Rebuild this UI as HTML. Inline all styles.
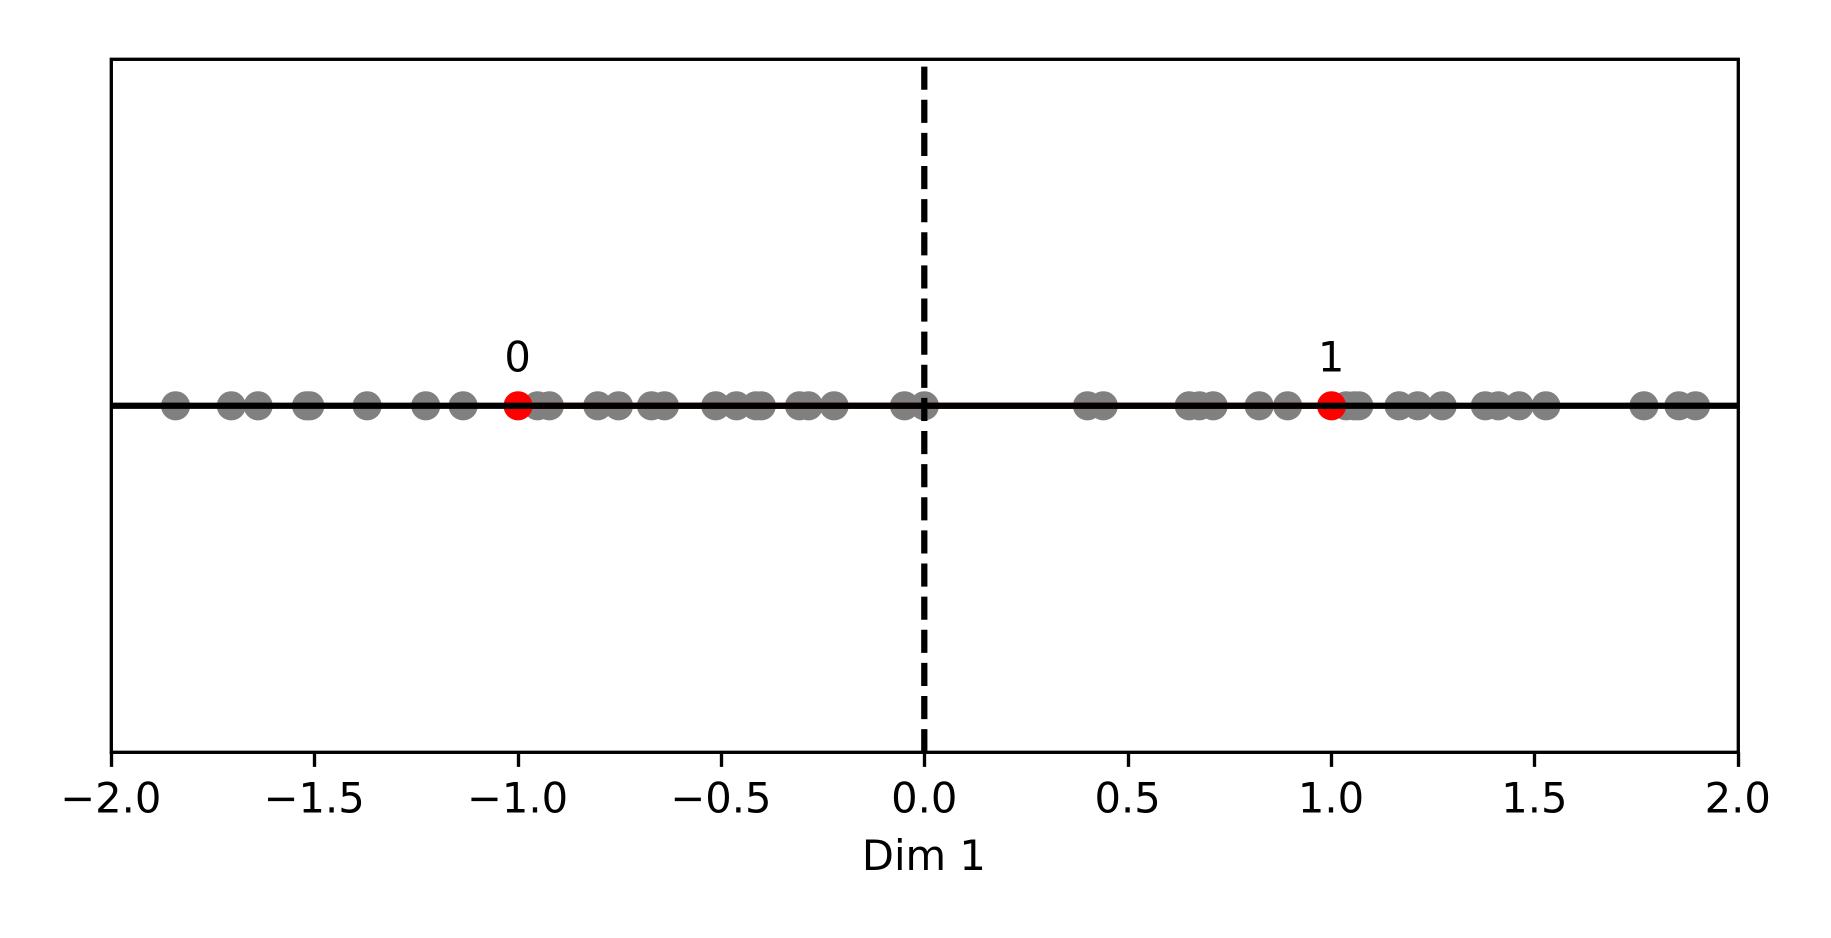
<!DOCTYPE html>
<html lang="en">
<head>
<meta charset="utf-8">
<title>Dim 1 strip plot</title>
<style>
html,body{margin:0;padding:0;background:#fff;}
svg{display:block;}
text{font-family:"DejaVu Sans","Liberation Sans",sans-serif;fill:#000;}
</style>
</head>
<body>
<svg id="chart" width="1831" height="938" viewBox="0 0 1831 938" xmlns="http://www.w3.org/2000/svg">
  <rect x="0" y="0" width="1831" height="938" fill="#fff"></rect>
  <g id="marks"></g>
  <g id="axes"></g>
</svg>
<script>
const grayValues = [-1.842,-1.705,-1.639,-1.520,-1.512,-1.371,-1.227,-1.135,-0.952,-0.923,-0.804,-0.753,-0.672,-0.640,-0.514,-0.463,-0.415,-0.402,-0.308,-0.286,-0.223,-0.050,-0.001,0.400,0.439,0.650,0.675,0.709,0.822,0.892,1.036,1.056,1.067,1.166,1.212,1.272,1.378,1.410,1.461,1.527,1.768,1.854,1.895];
const labeledValues = [-1, 1];
const labeledNames = ['0', '1'];
const xTicks = [-2,-1.5,-1,-0.5,0,0.5,1,1.5,2];
const xTickLabels = ['\u22122.0','\u22121.5','\u22121.0','\u22120.5','0.0','0.5','1.0','1.5','2.0'];
const xDomain = [-2, 2];
const yDomain = [-1, 1];

const NS = 'http://www.w3.org/2000/svg';
const plot = { left: 111.3, right: 1738.3, top: 59.3, bottom: 752.3 };
const xScale = v => plot.left + (v - xDomain[0]) / (xDomain[1] - xDomain[0]) * (plot.right - plot.left);
const yScale = v => plot.bottom - (v - yDomain[0]) / (yDomain[1] - yDomain[0]) * (plot.bottom - plot.top);
const snap = p => Math.floor(p) + 0.5;
const marks = document.getElementById('marks');
const axes = document.getElementById('axes');

function make(parent, tag, attrs, content) {
  const el = document.createElementNS(NS, tag);
  for (const k in attrs) el.setAttribute(k, attrs[k]);
  if (content !== undefined) el.textContent = content;
  parent.appendChild(el);
  return el;
}

grayValues.forEach(v => {
  const dot = make(marks, 'circle', { cx: xScale(v), cy: yScale(0), r: 14.6, fill: '#808080' });
  
  
});

labeledValues.forEach((v, i) => {
  const dot = make(marks, 'circle', { cx: xScale(v), cy: yScale(0), r: 14.6, fill: '#ff0000' });
  
  
  const lab = make(marks, 'text', { x: xScale(v) - 0.4, y: 371.7, 'font-size': 41.67, 'text-anchor': 'middle' }, labeledNames[i]);
  
  
});

const link = make(marks, 'line', { x1: xScale(labeledValues[0]), x2: xScale(labeledValues[1]), y1: yScale(0), y2: yScale(0), stroke: '#ff0000', 'stroke-width': 6.25 });



const hLine = make(marks, 'line', { x1: plot.left, x2: plot.right, y1: yScale(0), y2: yScale(0), stroke: '#000', 'stroke-width': 6.25 });



const vLine = make(marks, 'line', { x1: snap(xScale(0)) - 0.2, x2: snap(xScale(0)) - 0.2, y1: plot.bottom, y2: plot.top, stroke: '#000', 'stroke-width': 6.25, 'stroke-dasharray': '23.13 10' });



const frame = make(axes, 'rect', { x: plot.left, y: plot.top, width: plot.right - plot.left, height: plot.bottom - plot.top, fill: 'none', stroke: '#000', 'stroke-width': 3.33 });



xTicks.forEach((t, i) => {
  const tick = make(axes, 'line', { x1: snap(xScale(t)), x2: snap(xScale(t)), y1: plot.bottom, y2: plot.bottom + 14.6, stroke: '#000', 'stroke-width': 3.33 });
  
  
  const lab = make(axes, 'text', { x: xScale(t) - 0.5, y: 812.7, 'font-size': 41.67, 'text-anchor': 'middle' }, xTickLabels[i]);
  
  
});

const title = make(axes, 'text', { x: 923.9, y: 870, 'font-size': 41.67, 'text-anchor': 'middle' }, 'Dim 1');


</script>
</body>
</html>
